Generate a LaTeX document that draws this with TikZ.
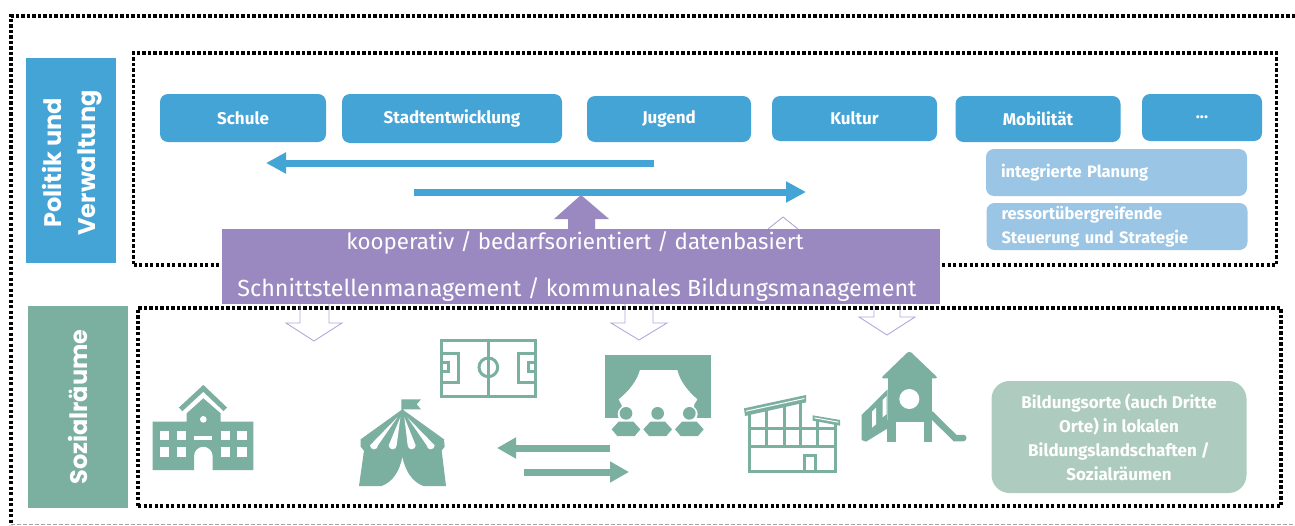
\documentclass[tikz,border=0pt]{standalone}
\usepackage{fontspec}
\usepackage{xcolor}
\usetikzlibrary{arrows.meta}
\setmainfont{Fira Sans}
\newfontfamily\headfont{Poppins}
\definecolor{topicblue}{HTML}{44A4D6}
\definecolor{planblue}{HTML}{9AC5E5}
\definecolor{placegreen}{HTML}{7BAFA0}
\definecolor{palegreen}{HTML}{AECBC0}
\definecolor{bandpurple}{HTML}{9A88C0}
\definecolor{hollowpurple}{HTML}{B4A8DC}
\tikzset{
    dot-box/.style = {draw=black, line width=3.4pt, dash pattern=on 3.2pt off 2.3pt, rectangle, inner sep=0pt},
    side-box/.style = {rectangle, text=white, rotate=90, align=center, inner sep=0pt, font=\headfont\bfseries\fontsize{24}{34}\selectfont},
    topic-box/.style = {fill=topicblue, text=white, rectangle, rounded corners=8pt, inner sep=0pt, font=\bfseries\fontsize{17}{18}\selectfont},
    plan-box/.style = {fill=planblue, text=white, rectangle, rounded corners=8pt, inner sep=0pt, text width=261pt, align=left, font=\bfseries\fontsize{16.5}{24}\selectfont},
    flow-arrow/.style = {line width=7pt, -{Triangle[length=20pt,width=20pt]}},
    hollow-arrow/.style = {draw=hollowpurple, line width=0.9pt, line join=miter},
    band-text/.style = {text=white, inner sep=0pt},
    icon/.style = {fill=placegreen, draw=none},
    icon-line/.style = {draw=placegreen, line width=3pt},
    icon-gap/.style = {fill=white, draw=none},
}
\begin{document}
\begin{tikzpicture}[x=1pt,y=-1pt]
\useasboundingbox (0,0) rectangle (1295,525);
\fill[white] (0,0) rectangle (1295,525);
\coordinate (frameEnd) at (1295,16);
\coordinate (frameCorner) at (11,16);
\coordinate (frameFoot) at (11,525);
\coordinate (baseLeft) at (11,524);
\coordinate (baseRight) at (1295,524);
\draw[black, line width=3.4pt, dash pattern=on 3.2pt off 2.3pt] (frameEnd) -- (frameCorner) -- (frameFoot);
\draw[black!35, line width=0.6pt, dash pattern=on 4pt off 2pt] (baseLeft) -- (baseRight);

\node[dot-box, minimum width=1143, minimum height=212] (politicsFrame) at (705,159) {};
\node[dot-box, minimum width=1143, minimum height=198] (spaceFrame) at (709.5,407) {};

\node[side-box, fill=topicblue, minimum width=205, minimum height=90] (politics) at (71,160.5) {};
\node[rotate=90, text=white, align=center, inner sep=0pt, font=\headfont\bfseries\fontsize{24}{34}\selectfont] (politicsText) at (72.5,163) {Politik und\\Verwaltung};
\node[side-box, fill=placegreen, minimum width=202, minimum height=100] (spaces) at (77.5,407) {Sozialräume};

\node[topic-box, minimum width=166, minimum height=48] (schule) at (243,118) {Schule};
\node[topic-box, minimum width=220, minimum height=49] (stadt) at (452,118.5) {Stadtentwicklung};
\node[topic-box, minimum width=164, minimum height=46] (jugend) at (669,119) {Jugend};
\node[topic-box, minimum width=165, minimum height=45] (kultur) at (854.5,118.5) {Kultur};
\node[topic-box, minimum width=165, minimum height=46] (mobil) at (1038,119) {Mobilität};
\node[topic-box, minimum width=120, minimum height=47] (more) at (1202,117.5) {\raisebox{-2pt}{...}};

\node[plan-box, minimum height=47] (planung) at (1116.5,172.5) {\hspace*{15pt}integrierte Planung};
\node[plan-box, minimum height=47] (steuerung) at (1117,226.5) {\hspace*{15pt}ressortübergreifende\\\hspace*{15pt}Steuerung und Strategie};

\coordinate (westStart) at (654,163);
\coordinate (westEnd) at (266,163);
\coordinate (eastStart) at (414,192);
\coordinate (eastEnd) at (806,192);
\draw[flow-arrow, draw=topicblue, -{Triangle[length=20pt,width=20pt,fill=topicblue]}] (westStart) -- (westEnd);
\draw[flow-arrow, draw=topicblue, -{Triangle[length=20pt,width=20pt,fill=topicblue]}] (eastStart) -- (eastEnd);

\fill[bandpurple] (568,232) -- (568,219) -- (554,219) -- (581,195) -- (609,219) -- (595,219) -- (595,232) -- cycle;
\draw[hollow-arrow] (768,229) -- (783,217) -- (798,229);
\draw[hollow-arrow] (300,304) -- (300,323) -- (286,323) -- (314,341) -- (342,323) -- (329,323) -- (329,304);
\draw[hollow-arrow] (625,304) -- (625,323) -- (611,323) -- (639,340) -- (667,323) -- (653,323) -- (653,304);
\draw[hollow-arrow] (874,304) -- (874,317) -- (859,317) -- (887,335) -- (915,317) -- (900,317) -- (900,304);

\node[fill=bandpurple, minimum width=718, minimum height=75, inner sep=0pt] (band) at (581,266.5) {};
\node[band-text, font=\fontsize{22.3}{26}\selectfont] (bandTop) at (575,243) {kooperativ / bedarfsorientiert / datenbasiert};
\node[band-text, font=\fontsize{23.3}{26}\selectfont] (bandBottom) at (577,290) {Schnittstellenmanagement / kommunales Bildungsmanagement};

\node[fill=palegreen, text=white, rectangle, rounded corners=18pt, minimum width=255, minimum height=112, inner sep=0pt, align=center, font=\bfseries\fontsize{17}{24}\selectfont] (orte) at (1119,437) {Bildungsorte (auch Dritte\\Orte) in lokalen\\Bildungslandschaften /\\Sozialräumen};

\coordinate (backStart) at (610,448);
\coordinate (backEnd) at (497,448);
\coordinate (forthStart) at (524,472);
\coordinate (forthEnd) at (629,472);
\draw[flow-arrow, draw=placegreen, -{Triangle[length=19pt,width=20pt,fill=placegreen]}] (backStart) -- (backEnd);
\draw[flow-arrow, draw=placegreen, -{Triangle[length=19pt,width=20pt,fill=placegreen]}] (forthStart) -- (forthEnd);

\begin{scope}[shift={(140,370)},x=1pt/3,y=-1pt/3]
\fill[icon] (38,155) -- (140,155) -- (140,130) -- (190,85) -- (242,130) -- (242,155) -- (340,155) -- (340,300) -- (218,300) -- (218,258) arc (0:-180:28) -- (162,300) -- (38,300) -- cycle;
\draw[placegreen, line width=5pt] (122,118) -- (190,55) -- (256,118);
\foreach \wx in {60,110,242,292} \foreach \wy in {182,232} \fill[icon-gap] (\wx,\wy) rectangle ++(28,28);
\fill[icon-gap] (163,198) rectangle (217,210);
\fill[icon-gap] (190,148) circle (10);
\end{scope}

\begin{scope}[shift={(340,330)},x=1pt/3,y=-1pt/3]
\fill[icon] (184,240) -- (184,208) -- (243,208) -- (230,223) -- (243,238) -- (190,238) -- (190,240) -- cycle;
\fill[icon] (187,238) -- (312,328) -- (314,350) -- (305,362) -- (318,468) -- (250,468) .. controls (215,455) and (195,420) .. (187,380) .. controls (180,420) and (160,455) .. (125,468) -- (57,468) -- (72,362) -- (62,350) -- (62,328) -- cycle;
\foreach \sx/\tx in {102/172,158/181,215/193,272/202} {
  \fill[icon-gap] (\tx,262) -- (\sx+12,346) arc (0:180:12) -- cycle;
}
\end{scope}

\begin{scope}[shift={(340,330)},x=1pt/3,y=-1pt/3]
\draw[icon-line] (305,30) rectangle (585,198);
\draw[icon-line] (445,30) -- (445,198);
\draw[icon-line] (445,112) circle (28);
\draw[icon-line] (305,70) rectangle (355,157);
\draw[icon-line] (305,97) rectangle (325,125);
\draw[icon-line] (585,70) rectangle (535,157);
\draw[icon-line] (585,97) rectangle (565,125);
\end{scope}

\begin{scope}[shift={(590,340)},x=1pt/3,y=-1pt/3]
\fill[icon] (45,45) -- (362,45) -- (362,235) -- (45,235) -- cycle;
\fill[icon-gap] (150,90) -- (262,90) .. controls (270,125) and (295,155) .. (322,178) -- (312,195) -- (312,240) -- (95,240) -- (95,195) -- (86,178) .. controls (115,155) and (140,125) .. (150,90) -- cycle;
\foreach \px in {108,203,298} {
  \fill[icon-gap] (\px,222) circle (25);
  \fill[icon] (\px,220) circle (19);
  \fill[icon-gap] (\px-46,244) rectangle (\px+46,290);
  \fill[icon] (\px-43,268) -- (\px-22,245) -- (\px+22,245) -- (\px+43,268) -- (\px+26,288) -- (\px-26,288) -- cycle;
}
\end{scope}

\begin{scope}[shift={(590,340)},x=1pt/3,y=-1pt/3]
\fill[icon] (462,205) -- (648,165) -- (648,187) -- (465,228) -- cycle;
\fill[icon-gap] (468,212) -- (643,174) -- (643,177) -- (468,215) -- cycle;
\fill[icon] (668,226) -- (750,240) -- (750,257) -- (668,242) -- cycle;
\fill[icon-gap] (673,232) -- (745,245) -- (745,248) -- (673,235) -- cycle;
\draw[icon-line] (478,222) -- (478,395) -- (737,395) -- (737,252);
\draw[icon-line] (478,265) -- (737,265);
\draw[icon-line] (478,320) -- (737,320);
\draw[icon-line] (530,212) -- (530,320);
\draw[icon-line] (582,200) -- (582,320);
\draw[icon-line] (632,190) -- (632,320);
\draw[icon-line] (683,238) -- (683,320);
\draw[icon-line] (642,395) -- (642,347) -- (677,347) -- (677,395);
\end{scope}

\begin{scope}[shift={(590,340)},x=1pt/3,y=-1pt/3]
\fill[icon, rounded corners=3pt] (958,32) -- (1045,115) -- (872,115) -- cycle;
\fill[icon] (895,110) rectangle (1025,245);
\fill[icon] (892,240) rectangle (917,305);
\fill[icon] (1002,240) rectangle (1025,305);
\fill[icon-gap] (958,177) circle (30);
\fill[icon] (815,225) -- (893,148) -- (893,265) -- (828,305) -- (815,300) -- cycle;
\fill[icon-gap] (846,215) -- (858,203) -- (858,253) -- (846,263) -- cycle;
\fill[icon-gap] (878,180) -- (890,168) -- (890,222) -- (878,232) -- cycle;
\draw[placegreen, line width=6.5pt, line cap=round] (1022,222) -- (1095,294) -- (1120,294);
\end{scope}
\end{tikzpicture}
\end{document}
